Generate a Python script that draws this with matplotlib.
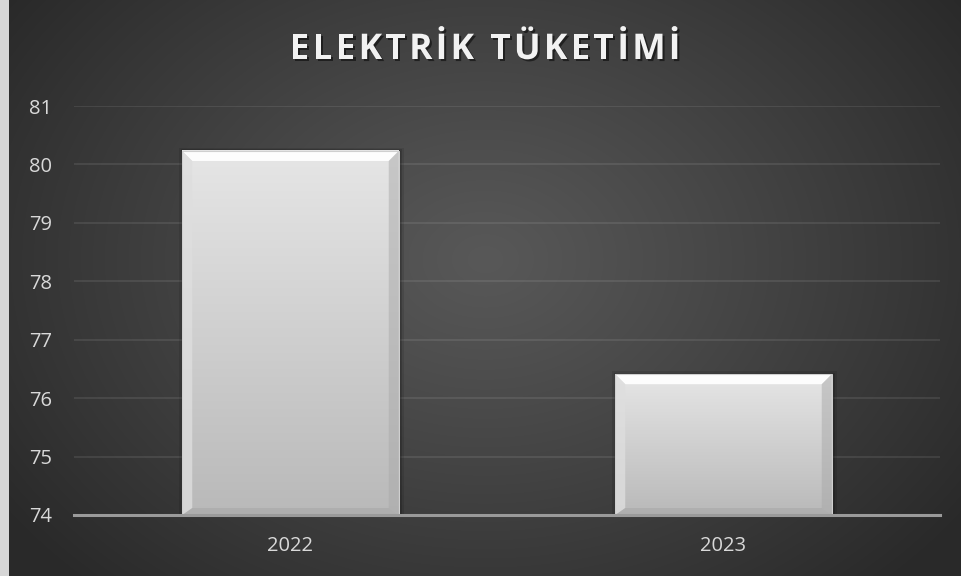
import numpy as np
import matplotlib
matplotlib.use('Agg')
import matplotlib.pyplot as plt
from matplotlib.patches import Polygon
from matplotlib.textpath import TextPath
from matplotlib.font_manager import FontProperties
import matplotlib.patheffects as pe

categories = ['2022', '2023']
values = [80.23, 76.41]
yticks = [74, 75, 76, 77, 78, 79, 80, 81]
title = 'ELEKTRİK TÜKETİMİ'

W, H = 961, 576
fig = plt.figure(figsize=(W / 100, H / 100), dpi=100)
fig.patch.set_facecolor('#d6d6d6')

# background radial gradient
bg = fig.add_axes([9 / W, 0, (W - 9) / W, 1])
bg.set_axis_off()
h, w = H, W - 9
yy, xx = np.mgrid[0:h, 0:w]
cx, cy = w * 0.5, h * 0.45
r = np.sqrt(((xx - cx) / (w * 0.62)) ** 2 + ((yy - cy) / (h * 0.78)) ** 2)
r = np.clip(r, 0, 1)
c0, c1 = 0x58 / 255, 0x29 / 255
val = c0 + (c1 - c0) * r ** 1.1
img = np.dstack([val, val, val])
bg.imshow(img, extent=[0, 1, 0, 1], aspect='auto', origin='upper', interpolation='bilinear')
bg.set_xlim(0, 1)
bg.set_ylim(0, 1)

ax = fig.add_axes([74 / W, 61 / H, (940 - 74) / W, (515 - 106) / H])
ax.patch.set_alpha(0)
ax.set_xlim(-0.5, 1.5)
ax.set_ylim(74, 81)
ax.set_yticks(yticks)
ax.set_yticklabels([str(t) for t in yticks])
for s in ['top', 'right', 'left']:
    ax.spines[s].set_visible(False)
ax.spines['bottom'].set_color('#9a9a9a')
ax.spines['bottom'].set_linewidth(2.2)
ax.spines['bottom'].set_zorder(5)
ax.grid(axis='y', color='white', alpha=0.09, linewidth=1.4)
ax.set_axisbelow(True)
ax.tick_params(axis='both', length=0, colors='#d9d9d9', labelsize=14.5)
ax.tick_params(axis='y', pad=16)
ax.tick_params(axis='x', pad=15)

x = np.arange(len(categories))
bars = ax.bar(x, values, width=0.5, bottom=0, color='none', edgecolor='none', zorder=2)
ax.set_ylim(74, 81)
ax.set_xticks(x)
ax.set_xticklabels(categories)
for lab in ax.get_xticklabels() + ax.get_yticklabels():
    lab.set_fontfamily('Open Sans')

fig.canvas.draw()
inv = ax.transData.inverted()
bw = 10  # bevel width px


def to_data(pts):
    return inv.transform(np.array(pts))


for b in bars:
    x0, w_ = b.get_x(), b.get_width()
    top = b.get_height()
    (px0, py0), (px1, py1) = ax.transData.transform([(x0, 74), (x0 + w_, top)])
    # shadow
    for k, a in [(4, 0.10), (2.5, 0.15), (1.2, 0.2)]:
        sh = Polygon(to_data([(px0 - k + 1, py0), (px1 + k + 1, py0), (px1 + k + 1, py1 + k - 1), (px0 - k + 1, py1 + k - 1)]),
                     closed=True, facecolor='black', edgecolor='none', alpha=a, zorder=2)
        ax.add_patch(sh)
    # face gradient
    grad = np.linspace(0, 1, 256).reshape(-1, 1)
    ctop, cbot = 0xe6 / 255, 0xb9 / 255
    g = ctop + (cbot - ctop) * grad
    gimg = np.dstack([g, g, g])
    (dx0, dy0) = to_data([(px0, py0)])[0]
    (dx1, dy1) = to_data([(px1, py1)])[0]
    ax.imshow(gimg, extent=[dx0, dx1, dy0, dy1], aspect='auto', origin='upper', zorder=3,
              interpolation='bilinear')
    # top bevel
    ax.add_patch(Polygon(to_data([(px0, py1), (px1, py1), (px1 - bw, py1 - bw), (px0 + bw, py1 - bw)]),
                         closed=True, facecolor='#fdfdfd', edgecolor='none', zorder=4))
    # left bevel
    ax.add_patch(Polygon(to_data([(px0, py1), (px0 + bw, py1 - bw), (px0 + bw, py0 + 7), (px0, py0)]),
                         closed=True, facecolor='#dedede', edgecolor='none', zorder=4, alpha=0.8))
    # right bevel (darker)
    ax.add_patch(Polygon(to_data([(px1, py1), (px1 - bw, py1 - bw), (px1 - bw, py0 + 7), (px1, py0)]),
                         closed=True, facecolor='#a9a9a9', edgecolor='none', zorder=4, alpha=0.5))
    # bottom bevel
    ax.add_patch(Polygon(to_data([(px0, py0), (px1, py0), (px1 - bw, py0 + 7), (px0 + bw, py0 + 7)]),
                         closed=True, facecolor='#9f9f9f', edgecolor='none', zorder=4, alpha=0.4))
    ax.add_patch(Polygon(to_data([(px0, py0), (px1, py0), (px1, py1), (px0, py1)]), closed=True,
                         facecolor='none', edgecolor='#cfcfcf', linewidth=0.8, zorder=4))

ax.set_xlim(-0.5, 1.5)
ax.set_ylim(74, 81)

# title with letter spacing
fs = 25.5
spacing = 3.2  # px between letters
fp = FontProperties(family='Open Sans', weight='bold', size=fs)
renderer = fig.canvas.get_renderer()
widths = []
for ch in title:
    t = fig.text(0, 0, ch if ch != ' ' else 'a', fontproperties=fp)
    bb = t.get_window_extent(renderer)
    widths.append(bb.width if ch != ' ' else bb.width * 0.45)
    t.remove()
total = sum(widths) + spacing * (len(title) - 1)
xc = (9 + W) / 2
xpos = xc - total / 2
ty = H - 50
for ch, wd in zip(title, widths):
    if ch != ' ':
        fig.text(xpos / W, ty / H, ch, fontproperties=fp, color='#f2f2f2', ha='left', va='center',
                 path_effects=[pe.withSimplePatchShadow(offset=(1.5, -1.5), shadow_rgbFace='black', alpha=0.5)])
    xpos += wd + spacing

fig.savefig('out.png', dpi=100, facecolor=fig.get_facecolor())
